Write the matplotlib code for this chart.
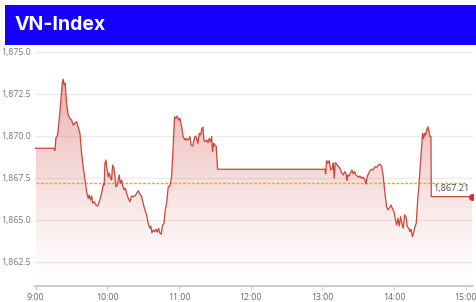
import numpy as np
import matplotlib
matplotlib.use("Agg")
import matplotlib.pyplot as plt
from matplotlib.patches import Rectangle
from matplotlib.ticker import FuncFormatter

# intraday VN-Index, minutes after 9:00
t_min = [0.0, 15.3, 16.2, 17.0, 18.4, 20.3, 22.3, 23.1, 23.9, 24.8, 25.9, 27.3, 28.7, 30.1,
         31.5, 32.9, 34.3, 35.6, 37.1, 38.5, 39.8, 41.3, 42.7, 44.0, 44.9, 46.0, 46.9, 47.7,
         49.0, 50.5, 51.9, 53.2, 54.6, 56.1, 56.9, 57.4, 58.0, 58.8, 59.9, 60.8, 61.6, 62.8,
         63.6, 64.4, 65.5, 66.4, 67.2, 68.3, 69.1, 70.0, 70.8, 72.0, 72.8, 73.9, 75.0, 76.2,
         77.5, 78.9, 80.3, 81.7, 83.1, 84.5, 85.9, 87.3, 88.7, 90.0, 91.5, 92.9, 94.2, 95.6,
         96.5, 97.3, 98.4, 99.6, 100.7, 101.8, 102.9, 104.0, 105.1, 106.3, 107.4, 108.5, 109.6,
         111.0, 112.4, 113.8, 115.1, 116.3, 117.4, 118.5, 119.7, 120.8, 122.2, 123.5, 124.9,
         125.8, 126.9, 128.0, 129.1, 130.2, 131.4, 132.5, 133.6, 134.7, 135.8, 136.9, 138.1,
         139.2, 140.0, 140.8, 141.9, 143.1, 144.2, 145.3, 146.4, 147.3, 148.1, 149.0, 150.0,
         151.1, 152.3, 242.1, 242.7, 243.5, 244.6, 245.7, 246.9, 248.0, 249.0, 249.9, 250.7,
         251.9, 253.0, 254.1, 255.2, 256.3, 257.4, 258.6, 259.7, 260.5, 261.3, 262.4, 263.6,
         264.7, 265.8, 267.0, 268.0, 269.1, 270.3, 271.4, 272.8, 274.1, 275.3, 276.4, 277.5,
         278.7, 279.7, 281.2, 282.5, 283.9, 285.4, 286.7, 288.1, 289.5, 290.9, 292.3, 293.7,
         294.8, 295.9, 297.4, 298.8, 299.9, 300.9, 302.1, 303.2, 304.3, 305.4, 306.5, 307.6,
         308.8, 309.9, 311.0, 312.1, 313.2, 314.3, 315.2, 316.3, 317.4, 318.5, 319.7, 320.8,
         321.8, 323.0, 323.8, 324.7, 325.5, 326.4, 327.2, 328.3, 329.2, 330.0, 330.8, 331.1,
         365.1]
index_vals = [1869.27, 1869.27, 1869.13, 1869.88, 1870.06, 1871.37, 1873.14, 1873.38, 1873.04,
              1873.14, 1871.95, 1871.25, 1871.05, 1870.95, 1870.65, 1870.76, 1870.85, 1870.55,
              1870.16, 1868.97, 1868.17, 1867.38, 1866.68, 1866.29, 1866.49, 1866.19, 1866.43,
              1866.00, 1866.09, 1865.89, 1865.83, 1866.09, 1866.39, 1866.89, 1867.18, 1867.08,
              1868.37, 1868.57, 1867.98, 1867.58, 1867.78, 1867.48, 1867.38, 1868.27, 1868.08,
              1867.58, 1866.98, 1867.08, 1867.38, 1867.68, 1867.18, 1867.38, 1867.08, 1866.79,
              1866.89, 1866.59, 1866.29, 1866.09, 1866.43, 1866.39, 1866.43, 1866.59, 1866.74,
              1866.55, 1866.39, 1865.99, 1865.60, 1865.30, 1864.80, 1864.51, 1864.64, 1864.24,
              1864.40, 1864.30, 1864.45, 1864.27, 1864.51, 1864.21, 1864.15, 1864.70, 1864.80,
              1865.60, 1865.99, 1866.98, 1867.02, 1867.58, 1869.36, 1871.15, 1871.05, 1871.19,
              1870.95, 1871.05, 1870.55, 1869.96, 1869.76, 1869.86, 1869.76, 1869.80, 1869.96,
              1869.46, 1869.40, 1869.76, 1870.00, 1869.86, 1869.57, 1870.16, 1870.06, 1870.46,
              1870.52, 1869.76, 1869.66, 1869.76, 1869.60, 1869.86, 1869.66, 1869.96, 1869.07,
              1869.57, 1869.46, 1869.40, 1868.02, 1868.02, 1867.74, 1868.53, 1868.37, 1868.53,
              1867.98, 1868.02, 1868.41, 1867.48, 1868.41, 1868.33, 1868.21, 1868.14, 1867.98,
              1867.78, 1867.68, 1867.88, 1867.78, 1867.34, 1867.68, 1867.62, 1867.82, 1867.98,
              1867.74, 1867.88, 1867.68, 1867.62, 1867.54, 1867.62, 1867.48, 1867.54, 1867.42,
              1867.14, 1867.58, 1867.78, 1867.93, 1868.02, 1867.98, 1868.17, 1868.14, 1868.27,
              1868.32, 1868.19, 1867.58, 1866.59, 1865.79, 1865.60, 1865.70, 1865.89, 1865.64,
              1865.49, 1865.10, 1864.70, 1865.10, 1864.64, 1865.20, 1864.80, 1864.51, 1865.30,
              1865.20, 1864.60, 1864.51, 1864.30, 1864.45, 1864.01, 1864.24, 1864.60, 1864.80,
              1866.19, 1867.08, 1868.17, 1869.36, 1870.16, 1869.86, 1870.16, 1870.06, 1870.36,
              1870.55, 1870.26, 1869.96, 1869.96, 1866.39, 1866.39]
ref_price = 1867.21
ref_label = "1,867.21"
title = "VN-Index"
y_ticks = [1862.5, 1865.0, 1867.5, 1870.0, 1872.5, 1875.0]
x_ticks = [0, 60, 120, 180, 240, 300, 360]
x_labels = ["9:00", "10:00", "11:00", "12:00", "13:00", "14:00", "15:00"]

line_col = "#c8463a"
y_lo, y_hi = 1861.07, 1875.0

fig = plt.figure(figsize=(4.77, 3.02), dpi=100)
fig.patch.set_facecolor("white")

# blue header band
fig.patches.append(Rectangle((5 / 477, 1 - 45 / 302), 472 / 477, 40 / 302,
                             transform=fig.transFigure, facecolor="#1500ff",
                             edgecolor="none", zorder=0))
fig.text(15 / 477, 1 - 25.5 / 302, title, color="white", fontsize=14,
         fontweight="bold", family=["Inter", "DejaVu Sans"], va="center", ha="left")

ax = fig.add_axes([35 / 477, 16 / 302, 438 / 477, 234 / 302])
ax.set_xlim(-0.5, 366)
ax.set_ylim(y_lo, y_hi)

t = np.array(t_min)
v = np.array(index_vals)

# gradient area under the line
poly = ax.fill_between(t, v, y_lo, facecolor="none", edgecolor="none")
grad = np.linspace(0, 1, 256).reshape(-1, 1)
rgba = np.zeros((256, 1, 4))
rgba[..., 0] = 0.80
rgba[..., 1] = 0.30
rgba[..., 2] = 0.27
rgba[..., 3] = (grad ** 1.3) * 0.45
img = ax.imshow(rgba, aspect="auto", origin="lower",
                extent=[t.min(), t.max(), y_lo, v.max()], zorder=1)
img.set_clip_path(poly.get_paths()[0], transform=ax.transData)

ax.plot(t, v, color=line_col, lw=0.9, zorder=3)
ax.hlines(ref_price, 0, 360, colors="#f5a030", linestyles=(0, (2, 1.2)), lw=1.0, zorder=2)
ax.plot([t[-1]], [v[-1]], "o", color="#c0392b", ms=4, zorder=4)
ax.annotate(ref_label, (t[-2] + 1.2, v[-1]), xytext=(0, 2.5), textcoords="offset points",
            fontsize=6.6, color="#4d4d4d", family=["Open Sans", "DejaVu Sans"],
            ha="left", va="bottom", zorder=5)

# grid + axes style
for yt in y_ticks:
    ax.axhline(yt, color="#ebebeb", lw=1.6 if yt == 1875.0 else 0.9, zorder=0)
for s in ["top", "right", "left"]:
    ax.spines[s].set_visible(False)
ax.spines["bottom"].set_color("#cccccc")
ax.spines["bottom"].set_linewidth(1.4)

ax.set_yticks(y_ticks)
ax.yaxis.set_major_formatter(FuncFormatter(lambda val, pos: f"{val:,.1f}"))
ax.set_xticks(x_ticks)
ax.set_xticklabels(x_labels)
ax.tick_params(axis="y", length=0, pad=3, labelsize=6.3, labelcolor="#777777")
ax.tick_params(axis="x", length=3, width=0.8, color="#cccccc", pad=2,
               labelsize=6.3, labelcolor="#666666")
for lab in ax.get_xticklabels() + ax.get_yticklabels():
    lab.set_family(["Open Sans", "DejaVu Sans"])

fig.savefig("out.png", dpi=100)
